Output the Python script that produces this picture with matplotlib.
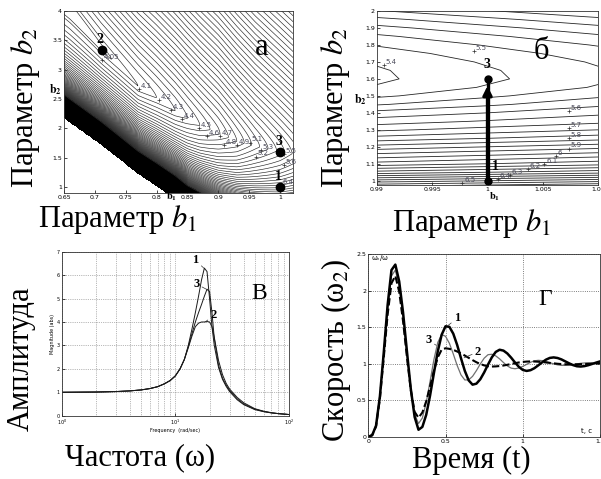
import numpy as np
import matplotlib
matplotlib.use("Agg")
import matplotlib.pyplot as plt

plt.rcParams['font.family'] = ['Liberation Serif', 'DejaVu Serif']
plt.rcParams['mathtext.fontset'] = 'stix'

# ---------------- panel a: criterion over (b1, b2), read along the valley floor
a_b1 = np.array([0.62, 0.66, 0.71, 0.77, 0.80, 0.83, 0.85, 0.87, 0.90, 0.93, 0.96, 1.00, 1.05])
a_valley_b2 = np.array([4.30, 3.95, 3.35, 2.72, 2.52, 2.30, 2.17, 2.05, 1.92, 1.78, 1.70, 1.60, 1.52])
a_valley_level = np.array([3.98, 3.98, 4.03, 4.10, 4.20, 4.30, 4.40, 4.50, 4.68, 4.90, 5.15, 5.44, 5.85])
a_edge_b2 = np.array([2.42, 2.10, 1.73, 1.23, 1.02, 0.80, 0.62, 0.50, 0.32, 0.20, 0.10, 0.0, -0.08])
a_rise_above = 1.0
a_rise_below = 2.5
a_levels = [4.05] + [round(v, 2) for v in np.arange(4.1, 9.01, 0.1)]

a_label_text = ['4.05', '4.1', '4.2', '4.3', '4.4', '4.5', '4.6', '4.7', '4.8', '4.9',
                '5.1', '5.2', '5.3', '5.5', '5.6', '6.4']
a_label_b1 = [0.712, 0.772, 0.804, 0.824, 0.841, 0.868, 0.881, 0.903, 0.910, 0.930,
              0.951, 0.961, 0.969, 1.006, 1.006, 1.002]
a_label_b2 = [3.16, 2.67, 2.49, 2.32, 2.16, 2.01, 1.87, 1.87, 1.72, 1.72,
              1.76, 1.52, 1.63, 1.56, 1.38, 1.04]

point_names = ['1', '2', '3']
point_b1 = [1.0, 0.711, 1.0]
point_b2 = [1.0, 3.335, 1.6]

# ---------------- panel b: zoom near b1 = 1
b_b2 = np.array([0.95, 1.0, 1.05, 1.1, 1.15, 1.2, 1.25, 1.3, 1.35, 1.4, 1.45, 1.5,
                 1.55, 1.6, 1.65, 1.7, 1.75, 1.8, 1.85, 1.9, 1.95, 2.0, 2.05])
b_level_at_1 = np.array([6.65, 6.45, 6.25, 6.10, 6.00, 5.90, 5.80, 5.72, 5.655, 5.60, 5.54, 5.49,
                         5.455, 5.44, 5.444, 5.456, 5.476, 5.504, 5.54, 5.584, 5.636, 5.696, 5.764])
b_slope_b1 = np.array([3, 3, 3, 3, 3, 3, 3, 3, 3, 3.5, 4.5, 5,
                       5, 5, 5, 5, 5, 5, 5, 5, 5, 5, 5])
b_levels = [round(v, 2) for v in np.arange(5.4, 6.76, 0.05)]

b_label_text = ['5.4', '5.5', '5.6', '5.7', '5.8', '5.9', '6', '6.1', '6.2', '6.3', '6.4', '6.5']
b_label_b1 = [0.99066, 0.99878, 1.00736, 1.00736, 1.00736, 1.00736, 1.00621, 1.00515,
              1.00362, 1.00203, 1.00097, 0.99773]
b_label_b2 = [1.68, 1.765, 1.412, 1.31, 1.25, 1.19, 1.143, 1.098, 1.07, 1.034, 1.01, 0.985]

# ---------------- panel v: amplitude-frequency responses
c_freq = [1, 2, 3, 4, 5, 6, 7, 8, 9, 10, 11, 12, 13, 14, 15, 16, 17, 18, 19, 20,
          21, 22, 24, 26, 28, 30, 35, 40, 50, 60, 70, 80, 100]
c_mag_1 = [1.0, 1.01, 1.03, 1.06, 1.1, 1.16, 1.24, 1.36, 1.5, 1.7, 2.0, 2.4, 3.0, 3.7, 4.4,
           5.1, 5.8, 6.3, 6.15, 5.0, 3.8, 3.0, 2.05, 1.55, 1.25, 1.03, 0.68, 0.47, 0.26,
           0.17, 0.12, 0.09, 0.05]
c_mag_2 = [1.0, 1.01, 1.03, 1.06, 1.1, 1.16, 1.24, 1.36, 1.5, 1.7, 2.0, 2.4, 2.9, 3.4, 3.8,
           3.95, 4.0, 4.0, 4.02, 4.0, 3.8, 3.35, 2.35, 1.75, 1.38, 1.14, 0.78, 0.55, 0.3,
           0.19, 0.13, 0.09, 0.05]
c_mag_3 = [1.0, 1.01, 1.03, 1.06, 1.1, 1.16, 1.24, 1.36, 1.5, 1.7, 2.0, 2.4, 2.95, 3.5, 4.0,
           4.4, 4.75, 5.1, 5.4, 5.3, 4.4, 3.3, 2.15, 1.6, 1.3, 1.08, 0.72, 0.5, 0.28,
           0.18, 0.12, 0.09, 0.05]

# ---------------- panel g: speed step responses
d_time = [round(0.025 * i, 3) for i in range(61)]
d_speed_1 = [0, 0.02, 0.15, 0.55, 1.15, 1.8, 2.28, 2.355, 2.125, 1.70, 1.17, 0.656, 0.27, 0.095,
             0.134, 0.30, 0.565, 0.874, 1.17, 1.396, 1.511, 1.503, 1.41, 1.257, 1.074, 0.90,
             0.77, 0.712, 0.726, 0.786, 0.879, 0.987, 1.087, 1.16, 1.19, 1.178, 1.139, 1.081,
             1.015, 0.955, 0.914, 0.90, 0.91, 0.937, 0.976, 1.017, 1.054, 1.078, 1.085, 1.077,
             1.058, 1.031, 1.004, 0.98, 0.964, 0.96, 0.966, 0.979, 0.996, 1.014, 1.03]
d_speed_2 = [0, 0.02, 0.14, 0.52, 1.08, 1.67, 2.1, 2.20, 1.984, 1.58, 1.092, 0.64, 0.339, 0.26,
             0.331, 0.485, 0.691, 0.907, 1.086, 1.192, 1.21, 1.202, 1.188, 1.166, 1.14, 1.11,
             1.079, 1.048, 1.019, 0.994, 0.976, 0.964, 0.96, 0.962, 0.967, 0.974, 0.984, 0.995,
             1.006, 1.016, 1.023, 1.028, 1.03, 1.029, 1.026, 1.022, 1.016, 1.01, 1.004, 0.998,
             0.994, 0.991, 0.99, 0.99, 0.991, 0.993, 0.995, 0.997, 0.999, 1.0, 1.0]
d_speed_3 = [0, 0.02, 0.15, 0.55, 1.13, 1.75, 2.2, 2.28, 2.06, 1.645, 1.136, 0.65, 0.305, 0.18,
             0.256, 0.468, 0.759, 1.058, 1.291, 1.397, 1.374, 1.278, 1.133, 0.976, 0.846, 0.776,
             0.778, 0.826, 0.905, 0.995, 1.074, 1.122, 1.128, 1.106, 1.065, 1.015, 0.969, 0.938,
             0.93, 0.94, 0.962, 0.99, 1.018, 1.038, 1.045, 1.041, 1.029, 1.013, 0.997, 0.983,
             0.976, 0.976, 0.98, 0.987, 0.996, 1.004, 1.009, 1.01, 1.009, 1.006, 1.003]

W, H = 601, 479


def box(left, top, right, bottom):
    return [left / W, 1 - bottom / H, (right - left) / W, (bottom - top) / H]


def small_ticks(ax, size=4.5):
    ax.tick_params(direction='in', length=2, width=0.5, labelsize=size, pad=1.5)
    for lab in ax.get_xticklabels() + ax.get_yticklabels():
        lab.set_family('DejaVu Sans')
    for s in ax.spines.values():
        s.set_linewidth(0.6)
        s.set_color('#333333')


def contour_labels(ax, texts, xs, ys, size=5):
    ax.plot(xs, ys, '+', ms=3.5, mew=0.5, color='#333333')
    for t, x, y in zip(texts, xs, ys):
        ax.annotate(t, (x, y), xytext=(1.2, 0.8), textcoords='offset points',
                    fontsize=size, family='DejaVu Sans', color='#4a4a5a')


fig = plt.figure(figsize=(W / 100, H / 100), dpi=100)

# ======================= panel a
ax = fig.add_axes(box(64, 11, 293, 193))
g1, g2 = np.meshgrid(np.linspace(0.64, 1.03, 420), np.linspace(0.88, 4.05, 420))
vy = np.interp(g1, a_b1, a_valley_b2)
vz = np.interp(g1, a_b1, a_valley_level)
ey = np.interp(g1, a_b1, a_edge_b2)
up = np.clip(g2 - vy, 0, None)
z_above = vz + a_rise_above * up ** 2 / (up + 0.3)
gap = np.clip(g2 - ey, 1e-3, None)
z_below = vz + a_rise_below * (1 / gap - 1 / (vy - ey))
za = np.where(g2 >= vy, z_above, z_below)
za = np.ma.masked_where(g2 <= ey + 0.004, za)
ax.contourf(g1, g2, za, levels=[9.0, 1e6], colors='k')
ax.contour(g1, g2, za, levels=a_levels, colors='#262626', linewidths=0.45)
contour_labels(ax, a_label_text, a_label_b1, a_label_b2)
ax.plot(point_b1, point_b2, 'o', color='k', ms=6)
for n, x, y in zip(point_names, point_b1, point_b2):
    ax.annotate(n, (x, y), xytext=(-3.5, 5), textcoords='offset points',
                fontsize=10, fontweight='bold')
ax.text(0.96, 3.25, 'а', fontsize=22)
ax.set_xlim(0.65, 1.021)
ax.set_ylim(0.9, 4.0)
ax.set_xticks([0.65, 0.7, 0.75, 0.8, 0.85, 0.9, 0.95, 1.0])
ax.set_xticklabels(['0.65', '0.7', '0.75', '0.8', '0.85', '0.9', '0.95', '1'])
ax.set_yticks([1, 1.5, 2, 2.5, 3, 3.5, 4])
ax.set_yticklabels(['1', '1.5', '2', '2.5', '3', '3.5', '4'])
small_ticks(ax)
fig.text(55 / W, 1 - 90 / H, '$\\mathbf{b}_\\mathbf{2}$', fontsize=8.5, ha='center', va='center')
fig.text(172 / W, 1 - 197 / H, '$\\mathbf{b}_\\mathbf{1}$', fontsize=7.5, ha='center', va='center')

# ======================= panel b
ax = fig.add_axes(box(377, 11, 598, 185))
b_b1 = np.array([0.985, 1.0, 1.015])
zb = b_level_at_1[:, None] + b_slope_b1[:, None] * (b_b1[None, :] - 1.0)
ax.contour(b_b1, b_b2, zb, levels=b_levels, colors='#262626', linewidths=0.6)
contour_labels(ax, b_label_text, b_label_b1, b_label_b2)
ax.plot([point_b1[0], point_b1[2]], [point_b2[0], point_b2[2]], color='k', lw=2.4)
ax.annotate('', xy=(point_b1[2], point_b2[2]), xytext=(point_b1[0], point_b2[0]),
            arrowprops=dict(arrowstyle='-|>', color='k', lw=2.4, mutation_scale=13, shrinkB=5))
ax.plot([point_b1[0], point_b1[2]], [point_b2[0], point_b2[2]], 'o', color='k', ms=5)
ax.annotate('1', (point_b1[0], point_b2[0]), xytext=(3, 8), textcoords='offset points',
            fontsize=10, fontweight='bold')
ax.annotate('3', (point_b1[2], point_b2[2]), xytext=(-3, 8), textcoords='offset points',
            fontsize=10, fontweight='bold')
ax.text(1.0042, 1.72, 'б', fontsize=22)
ax.set_xlim(0.99, 1.01)
ax.set_ylim(0.975, 2.0)
ax.set_xticks([0.99, 0.995, 1.0, 1.005, 1.01])
ax.set_xticklabels(['0.99', '0.995', '1', '1.005', '1.01'])
ax.set_yticks(np.round(np.arange(1.0, 2.01, 0.1), 1))
ax.set_yticklabels(['1', '1.1', '1.2', '1.3', '1.4', '1.5', '1.6', '1.7', '1.8', '1.9', '2'])
small_ticks(ax)
fig.text(360 / W, 1 - 100 / H, '$\\mathbf{b}_\\mathbf{2}$', fontsize=8.5, ha='center', va='center')
fig.text(495 / W, 1 - 197 / H, '$\\mathbf{b}_\\mathbf{1}$', fontsize=7.5, ha='center', va='center')

# ======================= panel v
ax = fig.add_axes(box(61.7, 251.7, 289, 415.7))
for mag in (c_mag_1, c_mag_2, c_mag_3):
    ax.plot(c_freq, mag, color='#1a1a1a', lw=0.7)
ax.set_xscale('log')
ax.set_xlim(1, 100)
ax.set_ylim(0, 7)
ax.grid(True, which='both', ls=':', color='#777777', lw=0.5)
ax.tick_params(which='minor', length=0)
small_ticks(ax, 3.5)
ax.set_xlabel('Frequency  (rad/sec)', fontsize=3.5, family='DejaVu Sans', labelpad=0.5)
ax.set_ylabel('Magnitude (abs)', fontsize=3.5, family='DejaVu Sans', labelpad=1)
for n, xy, txt in (('1', (17.8, 6.3), (14.1, 6.5)), ('3', (19.4, 5.36), (14.3, 5.5)),
                   ('2', (18.3, 4.0), (20.4, 4.15))):
    ax.annotate(n, xy, xytext=txt, fontsize=9, fontweight='bold',
                arrowprops=dict(arrowstyle='-', lw=0.5, color='#333333', shrinkA=0, shrinkB=0))
ax.text(47, 5.0, 'В', fontsize=17)

# ======================= panel g
ax = fig.add_axes(box(368.3, 254, 600, 436.7))
ax.plot(d_time, d_speed_3, color='#707070', lw=0.9)
ax.plot(d_time, d_speed_2, color='k', lw=1.5, dashes=(3.5, 1.5))
ax.plot(d_time, d_speed_1, color='k', lw=1.8)
ax.set_xlim(0, 1.5)
ax.set_ylim(0, 2.5)
ax.set_xticks([0, 0.5, 1, 1.5])
ax.set_xticklabels(['0', '0.5', '1', '1.5'])
ax.set_yticks([0, 0.5, 1, 1.5, 2, 2.5])
ax.set_yticklabels(['0', '0.5', '1', '1.5', '2', '2.5'])
ax.grid(True, ls=':', color='#555555', lw=0.6)
small_ticks(ax, 4.5)
ax.text(0.02, 2.42, 'ω$_в$/ω', fontsize=5, family='DejaVu Sans')
ax.text(1.38, 0.05, 't, c', fontsize=5, family='DejaVu Sans')
for n, xy, txt in (('1', (0.515, 1.52), (0.555, 1.58)), ('3', (0.44, 1.25), (0.37, 1.28)),
                   ('2', (0.62, 1.08), (0.69, 1.12))):
    ax.annotate(n, xy, xytext=txt, fontsize=9, fontweight='bold',
                arrowprops=dict(arrowstyle='-', lw=0.5, color='#333333', shrinkA=0, shrinkB=0))
ax.text(1.1, 1.8, 'Г', fontsize=17)

# ======================= big captions
big = 22
fig.text(25 / W, 1 - 108 / H, 'Параметр $b_2$', fontsize=big, rotation=90, ha='center', va='center')
fig.text(118 / W, 1 - 219 / H, 'Параметр $b_1$', fontsize=big, ha='center', va='center')
fig.text(336 / W, 1 - 108 / H, 'Параметр $b_2$', fontsize=big, rotation=90, ha='center', va='center')
fig.text(472 / W, 1 - 223 / H, 'Параметр $b_1$', fontsize=big, ha='center', va='center')
fig.text(21 / W, 1 - 359 / H, 'Амплитуда', fontsize=big, rotation=90, ha='center', va='center')
fig.text(140 / W, 1 - 458 / H, 'Частота (ω)', fontsize=big, ha='center', va='center')
fig.text(336 / W, 1 - 351 / H, 'Скорость (ω$_2$)', fontsize=big, rotation=90, ha='center', va='center')
fig.text(471 / W, 1 - 460 / H, 'Время (t)', fontsize=big, ha='center', va='center')

fig.savefig('out.png', dpi=100)
